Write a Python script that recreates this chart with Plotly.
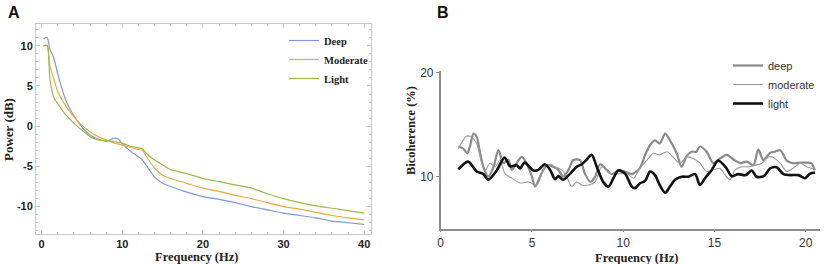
import plotly.graph_objects as go

W, H = 824, 264

# ---------------- Panel A data (Power spectrum) ----------------
freq_a = [0.2, 0.7, 1.0, 1.5, 2.0, 3.0, 4.0, 5.0, 6.0, 7.0, 8.0, 8.5, 9.0, 9.5, 10.0, 11.0,
          12.0, 12.5, 13.0, 14.0, 15.0, 16.0, 18.0, 20.0, 22.0, 24.0, 26.0, 28.0, 30.0,
          32.0, 34.0, 36.0, 38.0, 40.0]
deep_a = [10.9, 11.0, 9.6, 8.5, 6.5, 3.2, 1.3, -0.1, -1.1, -1.6, -1.9, -1.7, -1.5, -1.6, -2.2, -3.1,
          -3.8, -4.2, -4.9, -6.3, -7.1, -7.5, -8.2, -8.75, -9.1, -9.5, -10.0, -10.4, -10.8,
          -11.1, -11.4, -11.8, -12.0, -12.2]
moderate_a = [10.0, 10.0, 7.6, 5.9, 4.3, 2.5, 1.2, 0.1, -0.7, -1.3, -1.7, -1.9, -2.1, -2.2, -2.35, -2.6,
              -2.9, -3.0, -3.8, -5.2, -6.1, -6.5, -7.1, -7.7, -8.1, -8.6, -9.0, -9.5, -10.0,
              -10.3, -10.7, -11.1, -11.4, -11.65]
light_a = [10.0, 10.0, 6.1, 3.6, 2.8, 1.4, 0.35, -0.5, -1.3, -1.7, -1.8, -1.85, -1.9, -2.0, -2.1, -2.5,
           -2.7, -2.8, -3.4, -4.2, -4.8, -5.4, -5.9, -6.5, -6.9, -7.3, -7.7, -8.4, -9.0,
           -9.5, -9.9, -10.2, -10.5, -10.8]
ticks_a_x = [0, 10, 20, 30, 40]
ticks_a_y = [10, 5, 0, -5, -10]
ticklabels_a_y = ["10", "5", "0", "-5", "-10"]

# ---------------- Panel B data (Bicoherence) ----------------
freq_light_b = [0.97, 1.5, 1.97, 2.34, 2.6, 3.07, 3.5, 3.8, 4.16, 4.35, 4.6, 5.08, 5.35, 5.7, 6.0,
                6.26, 6.45, 6.7, 7.1, 7.45, 7.73, 8.0, 8.27, 8.55, 8.9, 9.2, 9.46, 9.73, 10.1,
                10.47, 10.65, 10.9, 11.2, 11.47, 11.74, 12.0, 12.3, 12.56, 12.84, 13.2, 13.57,
                13.94, 14.2, 14.48, 14.85, 15.2, 15.6, 15.95, 16.3, 16.7, 17.04, 17.3, 17.7,
                18.05, 18.4, 18.78, 19.14, 19.6, 19.96, 20.24, 20.5]
light_b = [10.7, 11.45, 10.5, 10.25, 9.7, 10.6, 11.85, 11.0, 11.1, 10.8, 11.35, 10.6, 10.65, 11.2, 10.65,
           9.75, 10.05, 9.7, 10.3, 10.95, 11.2, 11.65, 12.1, 10.95, 9.5, 9.05, 9.85, 10.6, 10.3,
           9.05, 8.9, 9.35, 9.6, 10.5, 10.15, 9.2, 8.45, 9.05, 9.7, 10.0, 10.0,
           10.25, 9.2, 9.85, 10.65, 11.55, 10.95, 10.05, 10.25, 10.15, 10.6, 10.0, 10.05,
           10.8, 10.9, 10.25, 10.15, 10.15, 9.85, 10.3, 10.4]

freq_deep_b = [0.97, 1.24, 1.46, 1.6, 1.8, 1.97, 2.16, 2.34, 2.6, 2.9, 3.16, 3.43, 3.7, 3.9, 4.07,
               4.44, 4.7, 5.0, 5.17, 5.44, 5.8, 6.17, 6.45, 6.7, 7.0, 7.27, 7.63, 7.9, 8.2, 8.46,
               8.73, 9.1, 9.37, 9.73, 10.1, 10.47, 10.9, 11.2, 11.47, 11.74, 12.0, 12.3, 12.56,
               12.93, 13.2, 13.48, 13.75, 14.0, 14.2, 14.57, 14.94, 15.3, 15.67, 16.04, 16.4,
               16.77, 17.13, 17.4, 17.68, 18.05, 18.3, 18.6, 18.96, 19.3, 19.7, 20.05, 20.3, 20.5]
deep_b = [12.9, 12.7, 12.25, 12.9, 14.15, 13.85, 12.25, 10.95, 10.0, 10.95, 12.55, 11.3, 11.65, 10.65, 11.05,
          11.9, 11.3, 10.0, 9.05, 10.0, 11.1, 10.95, 10.65, 10.0, 10.65, 11.6, 11.6, 10.3, 9.5, 10.0,
          11.2, 10.65, 10.25, 10.6, 10.5, 10.25, 10.8, 12.1, 13.05, 13.5, 13.2, 14.15, 13.5,
          12.25, 10.95, 12.0, 12.4, 12.4, 12.9, 12.4, 11.3, 11.75, 12.1, 11.65, 11.3,
          11.45, 11.1, 12.6, 11.6, 12.3, 12.4, 12.55, 11.55, 11.3, 11.35, 11.35, 11.3, 10.6]

freq_moderate_b = [0.97, 1.42, 1.7, 1.97, 2.25, 2.43, 2.7, 2.98, 3.25, 3.52, 3.9, 4.35, 4.8, 5.26,
                   5.63, 6.0, 6.26, 6.63, 6.9, 7.18, 7.45, 7.73, 8.1, 8.46, 8.82, 9.28, 9.73, 10.2,
                   10.56, 10.9, 11.3, 11.65, 12.0, 12.4, 12.75, 13.1, 13.48, 13.84, 14.2, 14.57,
                   14.94, 15.3, 15.58, 15.85, 16.13, 16.5, 16.86, 17.22, 17.6, 17.95, 18.23, 18.6,
                   18.96, 19.3, 19.7, 20.05, 20.3, 20.5]
moderate_b = [12.7, 13.9, 13.8, 13.2, 11.3, 10.6, 11.3, 10.95, 11.6, 10.3, 9.85, 9.4, 9.5, 9.2,
              10.65, 11.2, 10.95, 10.65, 10.0, 9.05, 9.5, 9.2, 9.2, 9.5, 10.95, 10.3, 10.3, 10.3,
              9.85, 10.8, 11.6, 12.25, 12.1, 12.4, 11.85, 11.3, 11.9, 11.75, 11.3, 10.5,
              10.65, 10.8, 10.15, 9.7, 10.65, 10.95, 10.95, 11.1, 11.3, 11.9, 11.85, 11.3,
              10.5, 10.8, 11.3, 10.95, 10.8, 10.65]
ticks_b_x = [0, 5, 10, 15, 20]
ticks_b_y = [10, 20]

# ---------------- Figure ----------------
fig = go.Figure()

def px_x(p):
    return p / W

def px_y(p):
    return 1 - p / H

serif = "Liberation Serif"
sans = "Liberation Sans"

colors_a = {"Deep": "#7e9bd0", "Moderate": "#e2ab45", "Light": "#9db84a"}
for name, ys in [("Deep", deep_a), ("Moderate", moderate_a), ("Light", light_a)]:
    fig.add_trace(go.Scatter(x=freq_a, y=ys, mode="lines", name=name,
                             line=dict(color=colors_a[name], width=1.2, shape="spline", smoothing=0.6),
                             xaxis="x", yaxis="y", legend="legend"))

b_styles = {"deep": dict(color="#8a8a8a", width=2.2),
            "moderate": dict(color="#9a9a9a", width=1.1),
            "light": dict(color="#111111", width=2.6)}
for name, xs, ys in [("deep", freq_deep_b, deep_b), ("moderate", freq_moderate_b, moderate_b),
                     ("light", freq_light_b, light_b)]:
    fig.add_trace(go.Scatter(x=xs, y=ys, mode="lines", name=name,
                             line=dict(shape="spline", smoothing=0.8, **b_styles[name]),
                             xaxis="x2", yaxis="y2", legend="legend2"))

frame_col = "#c8c8c8"
fig.update_layout(
    width=W, height=H,
    margin=dict(l=0, r=0, t=0, b=0, autoexpand=False),
    paper_bgcolor="white", plot_bgcolor="white",
    showlegend=True,
    xaxis=dict(domain=[px_x(36), px_x(371)], range=[-0.7, 40.85],
               tickvals=ticks_a_x, showgrid=False, zeroline=False,
               showline=True, linecolor=frame_col, linewidth=1, mirror="allticks",
               ticks="inside", ticklen=4, tickcolor=frame_col,
               minor=dict(ticks="inside", ticklen=2, tickcolor=frame_col, dtick=2),
               tickfont=dict(family=sans, size=11, color="#222", weight="bold"),
               anchor="y"),
    yaxis=dict(domain=[px_y(234), px_y(24)], range=[-13.4, 12.7],
               tickvals=ticks_a_y, ticktext=ticklabels_a_y, showgrid=False, zeroline=False,
               showline=True, linecolor=frame_col, linewidth=1, mirror="allticks",
               ticks="inside", ticklen=4, tickcolor=frame_col,
               minor=dict(ticks="inside", ticklen=2, tickcolor=frame_col, dtick=1),
               tickfont=dict(family=sans, size=11, color="#222", weight="bold"),
               anchor="x"),
    xaxis2=dict(domain=[px_x(440.7), px_x(820)], range=[0, 20.78],
                tickvals=ticks_b_x, showgrid=False, zeroline=False,
                showline=True, linecolor="#8c8c8c", linewidth=1.5,
                ticks="outside", ticklen=2, tickcolor="#8c8c8c",
                tickfont=dict(family=sans, size=12, color="#333"),
                anchor="y2"),
    yaxis2=dict(domain=[px_y(228.7), px_y(70.6)], range=[5, 20.2],
                tickvals=ticks_b_y, showgrid=False, zeroline=False,
                showline=True, linecolor="#8c8c8c", linewidth=1.5,
                ticks="outside", ticklen=3, tickcolor="#8c8c8c",
                tickfont=dict(family=sans, size=12, color="#333"),
                anchor="x2"),
    legend=dict(x=px_x(284), y=px_y(26), xref="container", yref="container",
                xanchor="left", yanchor="top",
                bgcolor="rgba(0,0,0,0)", borderwidth=0,
                font=dict(family=serif, size=10.5, color="#222", weight="bold"),
                itemwidth=30, tracegroupgap=0),
    legend2=dict(x=px_x(728), y=px_y(51), xref="container", yref="container",
                 xanchor="left", yanchor="top",
                 bgcolor="rgba(0,0,0,0)", borderwidth=0,
                 font=dict(family=sans, size=11, color="#333"),
                 itemwidth=30),
    annotations=[
        dict(text="<b>A</b>", x=px_x(6), y=px_y(2), xref="paper", yref="paper",
             xanchor="left", yanchor="top", showarrow=False,
             font=dict(family=sans, size=16, color="#111")),
        dict(text="<b>B</b>", x=px_x(435), y=px_y(2), xref="paper", yref="paper",
             xanchor="left", yanchor="top", showarrow=False,
             font=dict(family=sans, size=16, color="#111")),
        dict(text="<b>Power (dB)</b>", x=px_x(8), y=px_y(130), xref="paper", yref="paper",
             xanchor="center", yanchor="middle", textangle=-90, showarrow=False,
             font=dict(family=serif, size=13, color="#222")),
        dict(text="<b>Frequency (Hz)</b>", x=px_x(196), y=px_y(257), xref="paper", yref="paper",
             xanchor="center", yanchor="middle", showarrow=False,
             font=dict(family=serif, size=12.5, color="#222")),
        dict(text="<b>Bicoherence (%)</b>", x=px_x(411), y=px_y(131), xref="paper", yref="paper",
             xanchor="center", yanchor="middle", textangle=-90, showarrow=False,
             font=dict(family=serif, size=12.5, color="#222")),
        dict(text="<b>Frequency (Hz)</b>", x=px_x(636), y=px_y(257.5), xref="paper", yref="paper",
             xanchor="center", yanchor="middle", showarrow=False,
             font=dict(family=serif, size=12.5, color="#222")),
    ],
)

fig.write_html("out.html", config={"displayModeBar": False},
               post_script="document.body.style.margin='0';document.body.style.padding='0';"
                           "document.body.style.overflow='hidden';"
                           "document.documentElement.style.overflow='hidden';")
